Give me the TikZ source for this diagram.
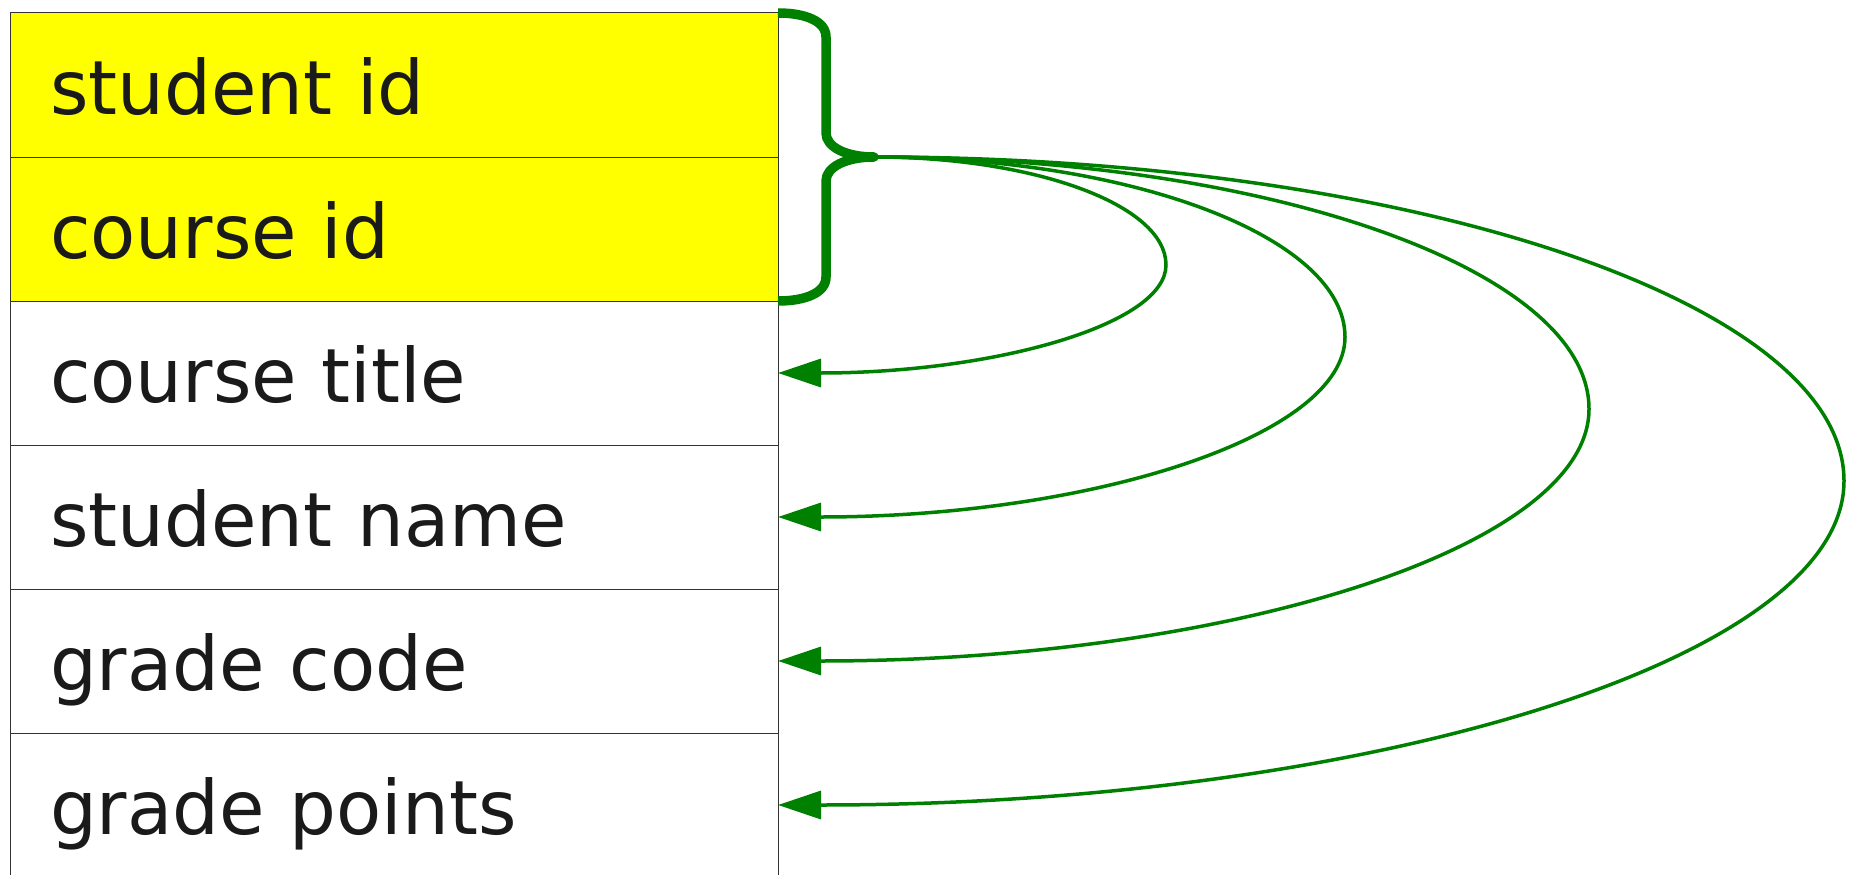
\documentclass[tikz,border=0pt]{standalone}
\usepackage{fontspec}
\setmainfont[FakeStretch=0.985]{DejaVu Sans}
\usepackage{tikz}
\usetikzlibrary{arrows.meta, positioning, calc}
\definecolor{fdGreen}{HTML}{008000}
\definecolor{fdYellow}{HTML}{FFFF00}
\definecolor{fdText}{HTML}{1A1A1A}
\definecolor{fdGray}{HTML}{333333}
\tikzset{
  fdrow/.style={rectangle, draw=fdGray, line width=1pt, outer sep=0pt,
                minimum width=768pt, minimum height=144pt, inner xsep=40pt,
                text width=688pt, align=left, text height=58pt, text depth=0pt,
                text=fdText, font=\fontsize{75}{90}\selectfont},
  fdkey/.style={fdrow, fill=fdYellow},
  fdbrace/.style={draw=fdGreen, line width=9.5pt, line join=round},
  fdflow/.style={-{Triangle[length=43pt, width=28pt]}, line width=3.5pt, color=fdGreen},
}
\begin{document}
\begin{tikzpicture}[x=1pt, y=-1pt]
  \useasboundingbox (0,0) rectangle (1856,875);
  \node[fdkey, anchor=north west](sid) at (10,13){student id};
  \node[fdkey, below=0pt of sid](cid){course id};
  \node[fdrow, below=0pt of cid](ctitle){course title};
  \node[fdrow, below=0pt of ctitle](sname){student name};
  \node[fdrow, below=0pt of sname](gcode){grade code};
  \node[fdrow, below=0pt of gcode](gpoints){grade points};
  % brace over the key rows
  \coordinate (keytip) at ($(sid.south east)+(96,0)$);
  \draw[fdbrace] (sid.north east) .. controls +(27,0) and +(0,-16) .. ++(48,24)
    -- ++(0,96) .. controls +(0,14) and +(-28,0) .. (keytip)
    .. controls +(-28,0) and +(0,-14) .. ++(-48,24)
    -- ++(0,96) .. controls +(0,16) and +(27,0) .. (cid.south east);
  % dependencies
  \draw[fdflow] (keytip) .. controls +(161,0) and +(0,-60) .. ++(292,108)
    .. controls +(0,60) and +(214,0) .. (ctitle.east);
  \draw[fdflow] (keytip) .. controls +(260,0) and +(0,-99) .. ++(471,180)
    .. controls +(0,99) and +(313,0) .. (sname.east);
  \draw[fdflow] (keytip) .. controls +(395,0) and +(0,-139) .. ++(715,252)
    .. controls +(0,139) and +(448,0) .. (gcode.east);
  \draw[fdflow] (keytip) .. controls +(535,0) and +(0,-179) .. ++(970,324)
    .. controls +(0,179) and +(588,0) .. (gpoints.east);
\end{tikzpicture}
\end{document}
